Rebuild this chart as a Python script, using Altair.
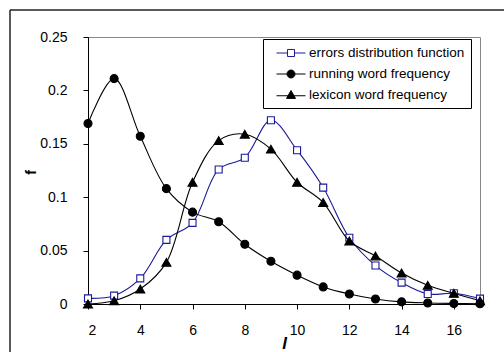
import altair as alt
import pandas as pd

# ---- data ----
l_values = list(range(2, 18))
errors = [0.0053, 0.0078, 0.024, 0.060, 0.076, 0.126, 0.137, 0.172,
          0.144, 0.109, 0.062, 0.036, 0.020, 0.0094, 0.010, 0.005]
running = [0.169, 0.211, 0.157, 0.108, 0.086, 0.077, 0.056, 0.040,
           0.027, 0.016, 0.0094, 0.0047, 0.002, 0.001, 0.0005, 0.0002]
lexicon = [0.0, 0.003, 0.014, 0.039, 0.114, 0.153, 0.159, 0.145,
           0.114, 0.095, 0.059, 0.045, 0.029, 0.0175, 0.010, 0.003]
series_names = ["errors distribution function", "running word frequency",
                "lexicon word frequency"]
x_ticks = [2, 4, 6, 8, 10, 12, 14, 16]
y_ticks = [0, 0.05, 0.1, 0.15, 0.2, 0.25]

rows = []
for name, vals in zip(series_names, [errors, running, lexicon]):
    for l, v in zip(l_values, vals):
        rows.append({"l": l, "f": v, "series": name})
df = pd.DataFrame(rows)

BLUE = "#1a1a99"
FONT = "Liberation Sans"

x_enc = alt.X("l:Q", scale=alt.Scale(domain=[2, 17], nice=False, zero=False),
              axis=alt.Axis(values=x_ticks, title="l", labelPadding=14,
                            titleFontStyle="italic", titleFontWeight="bold",
                            titleFontSize=17, titleY=31, titleBaseline="top"))
y_enc = alt.Y("f:Q", scale=alt.Scale(domain=[0, 0.25], nice=False),
              axis=alt.Axis(values=y_ticks, title="f", labelPadding=16,
                            labelExpr="toString(round(datum.value*100)/100)",
                            titleFontWeight="bold", titleFontSize=14,
                            titleX=-57, titleY=135, titleBaseline="middle"))

base = alt.Chart(df)

def series_layers(name, color, shape, fill, size):
    sub = base.transform_filter(alt.datum.series == name)
    line = sub.mark_line(interpolate="catmull-rom", color=color, strokeWidth=1.1).encode(x=x_enc, y=y_enc)
    pts = sub.mark_point(shape=shape, filled=True, fill=fill, stroke=color,
                         strokeWidth=1.1, size=size, opacity=1).encode(x=x_enc, y=y_enc)
    return [line, pts]

layers = []
layers += series_layers(series_names[0], BLUE, "square", "white", 49)
layers += series_layers(series_names[1], "black", "circle", "black", 64)
layers += series_layers(series_names[2], "black", "triangle-up", "black", 81)

# legend symbols: line with marker (custom paths in unit box)
p_sq = "M-1.93,0H-0.47M0.47,0H1.93M-0.47,-0.47H0.47V0.47H-0.47Z"
p_ci = "M-1.93,0H1.93M0.53,0A0.53,0.53 0 1,1 -0.53,0A0.53,0.53 0 1,1 0.53,0Z"
p_tr = "M-1.93,0.1H1.93M0,-0.6L0.6,0.45L-0.6,0.45Z"

lab_expr = "datum.label + '\u00a0\u00a0\u00a0\u00a0\u00a0'"
legend_df = pd.DataFrame({"series": series_names})
legend_layer = alt.Chart(legend_df).transform_filter("false").mark_point(filled=True, opacity=1).encode(
    shape=alt.Shape("series:N", title=None, legend=alt.Legend(labelExpr=lab_expr),
                    scale=alt.Scale(domain=series_names, range=[p_sq, p_ci, p_tr])),
    fill=alt.Fill("series:N", title=None, legend=alt.Legend(labelExpr=lab_expr),
                  scale=alt.Scale(domain=series_names, range=["white", "black", "black"])),
    stroke=alt.Stroke("series:N", title=None, legend=alt.Legend(labelExpr=lab_expr),
                      scale=alt.Scale(domain=series_names, range=[BLUE, "black", "black"])),
)
layers.append(legend_layer)

# outer frame (clipped by the page at right/bottom)
frame_df = pd.DataFrame({"k": [0]})
frame_top = alt.Chart(frame_df).mark_rule(color="#222222", strokeWidth=1.5).encode(
    x=alt.value(-78), x2=alt.value(460), y=alt.value(-27))
frame_left = alt.Chart(frame_df).mark_rule(color="#222222", strokeWidth=1.5).encode(
    x=alt.value(-78), y=alt.value(-27), y2=alt.value(360))
layers += [frame_top, frame_left]

chart = alt.layer(*layers).properties(
    width=392, height=267,
    padding={"left": 88, "top": 37, "right": 24, "bottom": 48},
    autosize=alt.AutoSizeParams(type="none"),
    background="white",
).configure_view(
    stroke="#888888", strokeWidth=1
).configure_axis(
    grid=False, domainColor="black", tickColor="black", tickSize=5,
    labelFont=FONT, labelFontSize=14, labelColor="black",
    titleFont=FONT, titleColor="black", domainWidth=1, tickWidth=1
).configure_legend(
    orient="none", legendX=175, legendY=2,
    strokeColor="black", padding=6, fillColor="white",
    labelFont=FONT, labelFontSize=13.5, labelColor="black",
    symbolSize=225, symbolStrokeWidth=1, symbolOffset=14,
    labelOffset=10, rowPadding=6
)

chart.save("out.html", embed_options={"renderer": "svg", "actions": False})
